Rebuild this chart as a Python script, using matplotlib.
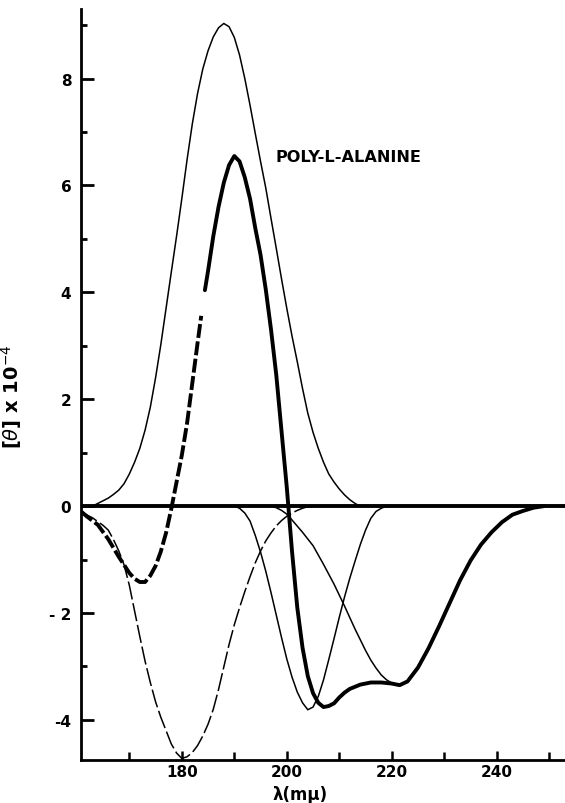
import matplotlib
matplotlib.use("Agg")
import matplotlib.pyplot as plt

# thin positive band near 188 m-mu
lam_pos = [163, 164, 165, 166, 167, 168, 169, 170, 171, 172, 173, 174, 175, 176, 177, 178,
           179, 180, 181, 182, 183, 184, 185, 186, 187, 188, 189, 190, 191, 192, 193, 194,
           195, 196, 197, 198, 199, 200, 201, 202, 203, 204, 205, 206, 207, 208, 209, 210,
           211, 212, 213, 214]
th_pos = [0.0, 0.05, 0.1, 0.15, 0.22, 0.3, 0.42, 0.6, 0.82, 1.08, 1.42, 1.85, 2.4, 3.02,
          3.7, 4.38, 5.05, 5.75, 6.48, 7.15, 7.72, 8.18, 8.52, 8.78, 8.95, 9.03, 8.97, 8.77,
          8.44, 8.0, 7.5, 6.97, 6.45, 5.95, 5.38, 4.82, 4.25, 3.7, 3.18, 2.7, 2.2, 1.74, 1.38,
          1.08, 0.82, 0.6, 0.45, 0.32, 0.21, 0.12, 0.05, 0.0]

# thin dashed negative band near 180
lam_n180 = [160.8, 162, 163, 164, 165, 166, 167, 168, 169, 170, 171, 172, 173, 174, 175,
            176, 177, 178, 179, 180, 181, 182, 183, 184, 185, 186, 187, 188, 189, 190, 191,
            192, 193, 194, 195, 196, 197, 198, 199, 200, 201, 202, 203, 204, 205]
th_n180 = [-0.1, -0.17, -0.22, -0.29, -0.36, -0.45, -0.63, -0.84, -1.1, -1.48, -1.96, -2.44,
           -2.9, -3.3, -3.66, -3.95, -4.2, -4.45, -4.62, -4.72, -4.69, -4.61, -4.48, -4.3,
           -4.08, -3.8, -3.43, -3.01, -2.59, -2.22, -1.9, -1.6, -1.32, -1.06, -0.84, -0.65,
           -0.5, -0.37, -0.27, -0.19, -0.13, -0.08, -0.04, -0.01, 0.0]

# thin negative band near 204
lam_n204 = [190, 191, 192, 193, 194, 195, 196, 197, 198, 199, 200, 201, 202, 203, 204, 205,
            206, 207, 208, 209, 210, 211, 212, 213, 214, 215, 216, 217, 218, 219]
th_n204 = [0.0, -0.04, -0.13, -0.28, -0.55, -0.86, -1.22, -1.62, -2.04, -2.46, -2.86, -3.2,
           -3.48, -3.68, -3.81, -3.76, -3.56, -3.25, -2.87, -2.48, -2.08, -1.7, -1.35, -1.03,
           -0.72, -0.45, -0.23, -0.1, -0.04, 0.0]

# thin negative band near 221
lam_n221 = [197, 198, 199, 200, 201, 203, 205, 207, 209, 211, 213, 215, 216, 217, 218, 219,
            220, 221, 222, 223, 224, 225, 227, 229, 231, 233, 235, 237, 239, 241, 243, 245,
            247, 249]
th_n221 = [0.0, -0.03, -0.08, -0.15, -0.26, -0.49, -0.74, -1.09, -1.46, -1.87, -2.3, -2.7,
           -2.88, -3.03, -3.16, -3.25, -3.31, -3.34, -3.33, -3.28, -3.17, -3.02, -2.66, -2.25,
           -1.82, -1.39, -1.02, -0.72, -0.49, -0.3, -0.16, -0.09, -0.03, 0.0]

# observed curve, dashed part (below 184)
lam_obs_d = [160.8, 162, 164, 166, 168, 170, 171, 172, 173, 174, 175, 176, 177, 178, 179,
             180, 181, 182, 183, 183.7]
th_obs_d = [-0.1, -0.2, -0.35, -0.62, -0.95, -1.25, -1.36, -1.42, -1.42, -1.3, -1.12, -0.85,
            -0.5, -0.05, 0.45, 0.95, 1.55, 2.3, 3.05, 3.56]

# observed curve, solid part
lam_obs = [184.4, 185, 186, 187, 188, 189, 190, 191, 192, 193, 194, 195, 196, 197, 198, 199,
           200, 201, 202, 203, 204, 205, 206, 207, 208, 209, 210, 211, 212, 214, 216, 218,
           220, 221.5, 223, 225, 227, 229, 231, 233, 235, 237, 239, 241, 243, 245, 247, 249]
th_obs = [4.04, 4.4, 5.05, 5.6, 6.05, 6.38, 6.55, 6.45, 6.15, 5.75, 5.2, 4.7, 4.05, 3.3, 2.45,
          1.4, 0.35, -0.85, -1.9, -2.65, -3.18, -3.5, -3.68, -3.76, -3.74, -3.69, -3.58, -3.49,
          -3.42, -3.34, -3.3, -3.3, -3.32, -3.35, -3.28, -3.02, -2.66, -2.25, -1.82, -1.39,
          -1.02, -0.72, -0.49, -0.3, -0.16, -0.09, -0.03, 0.0]

x_major = [180, 200, 220, 240]
x_minor = [170, 190, 210, 230, 250]
y_major = [-4, -2, 0, 2, 4, 6, 8]
y_major_labels = ["-4", "- 2", "0", "2", "4", "6", "8"]
y_minor = [-3, -1, 1, 3, 5, 7, 9]

fig = plt.figure(figsize=(5.65, 8.04), dpi=100)
ax = fig.add_axes([0.1434, 0.0535, 0.8566, 0.934])

# zero baseline
ax.axhline(0, color="black", lw=2.8, zorder=2)

ax.plot(lam_pos, th_pos, color="black", lw=1.1)
ax.plot(lam_n180, th_n180, color="black", lw=1.1, linestyle=(0, (12, 2.5)))
ax.plot(lam_n204, th_n204, color="black", lw=1.1)
ax.plot(lam_n221, th_n221, color="black", lw=1.1)
ax.plot(lam_obs_d, th_obs_d, color="black", lw=2.8, linestyle=(0, (3.6, 0.9)))
ax.plot(lam_obs, th_obs, color="black", lw=2.8, solid_capstyle="round",
        solid_joinstyle="round")

ax.set_xlim(160.8, 253)
ax.set_ylim(-4.75, 9.3)

for s in ["top", "right"]:
    ax.spines[s].set_visible(False)
for s in ["left", "bottom"]:
    ax.spines[s].set_linewidth(2)

ax.set_xticks(x_major)
ax.set_xticks(x_minor, minor=True)
ax.set_yticks(y_major)
ax.set_yticks(y_minor, minor=True)
ax.set_yticklabels(y_major_labels)

ax.tick_params(axis="y", which="major", direction="in", length=9.5, width=2, pad=7,
               labelsize=11)
ax.tick_params(axis="y", which="minor", direction="in", length=4.5, width=2)
ax.tick_params(axis="x", which="major", direction="in", length=6.5, width=1.8, pad=3,
               labelsize=11)
ax.tick_params(axis="x", which="minor", direction="in", length=6, width=1.8)
for lab in ax.get_xticklabels() + ax.get_yticklabels():
    lab.set_fontweight("bold")

ax.set_xlabel("λ(mμ)", fontsize=12, fontweight="bold")
ax.xaxis.set_label_coords(0.452, -0.033)
ax.set_ylabel(r"[$\theta$] x 10$^{-4}$", fontsize=14, fontweight="bold")
ax.yaxis.set_label_coords(-0.118, 0.485)

ax.text(0.401, 0.804, "POLY-L-ALANINE", transform=ax.transAxes, fontsize=11.6,
        fontweight="bold", ha="left", va="center")

fig.savefig("out.png", dpi=100)
